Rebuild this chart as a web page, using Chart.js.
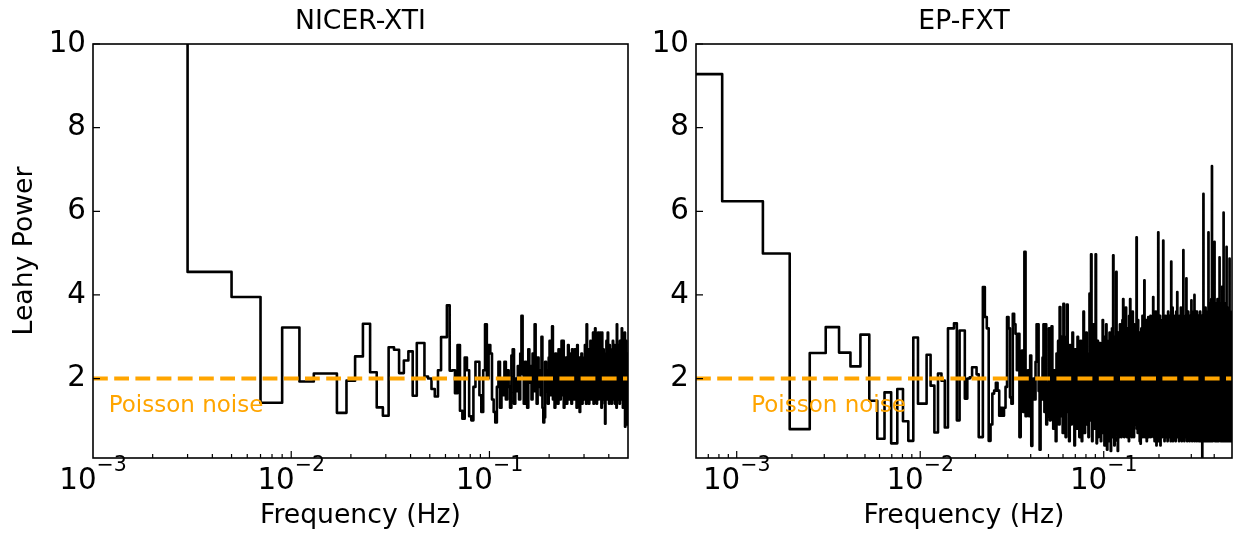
<!DOCTYPE html>
<html>
<head>
<meta charset="utf-8">
<script src="https://cdn.jsdelivr.net/npm/chart.js@4.4.1/dist/chart.umd.min.js"></script>
<style>
html,body{margin:0;padding:0;background:#fff;overflow:hidden;}
#wrap{position:relative;width:1235px;height:535px;background:#fff;}
canvas{position:absolute;top:0;}
#cNicer{left:0;}
#cEp{left:640px;}
</style>
</head>
<body>
<div id="wrap">
<canvas id="cNicer" width="640" height="535"></canvas>
<canvas id="cEp" width="595" height="535"></canvas>
</div>
<script>
const FONT = "'DejaVu Sans', sans-serif";
const NOISE_COLOR = '#FFA500';

const nicerTitle = 'NICER-XTI';
const epTitle = 'EP-FXT';
const xAxisTitle = 'Frequency (Hz)';
const yAxisTitle = 'Leahy Power';
const noiseLabel = 'Poisson noise';

const nicerDf = 0.002;      // Hz, frequency resolution (NICER-XTI)
const epDf = 1 / 1800;      // Hz, frequency resolution (EP-FXT)

const nicerXRange = [1e-3, 0.5];
const epXRange = [6e-4, 0.5];
const yRange = [0.1, 10];
const yTickValues = [2, 4, 6, 8, 10];
const xMajorTickValues = [1e-3, 1e-2, 1e-1];
const xMajorTickBase = '10';
const xMajorTickExponents = ['\u22123', '\u22122', '\u22121'];
const noiseLevel = 2;
const noiseLabelPos = [1.2e-3, 1.2];

const nicerPower = [
12,4.55,3.95,1.42,3.22,1.93,2.12,2.12,1.18,1.95,
2.53,3.31,2.15,1.31,1.11,2.75,2.69,2.13,2.43,2.65,
1.59,2.85,2.85,2.05,2.0,1.75,1.57,2.2,2.99,2.99,
3.75,2.19,2.2,1.65,2.8,1.23,1.04,2.5,2.2,1.1,
1.0,1.8,2.4,2.4,1.6,1.2,2.2,3.3,2.0,2.8,
2.6,1.5,1.2,0.95,1.8,2.4,1.3,2.0,1.6,2.4,
1.5,2.2,1.8,1.3,2.55,2.7,1.4,2.0,1.7,2.3,
1.5,2.6,3.5,2.1,1.4,2.4,1.8,1.3,2.7,1.9,
2.3,1.5,2.6,1.7,3.3,2.0,1.4,2.5,1.8,2.2,
1.6,3.0,1.3,0.95,1.07,2.4,1.7,2.2,1.4,2.5,
2.9,1.6,2.3,3.25,1.5,2.0,1.3,2.6,1.8,2.2,
1.4,2.7,1.9,1.5,2.4,2.9,1.6,2.9,1.3,2.2,
1.8,2.5,1.4,2.1,2.8,1.5,2.3,1.7,2.6,1.4,
2.7,1.9,2.2,1.5,2.7,1.6,2.4,1.3,2.8,2.0,
1.5,2.5,1.2,2.2,1.7,2.6,1.4,2.3,1.8,2.5,
1.5,2.8,1.9,1.4,3.3,2.1,1.6,2.7,1.4,2.2,
1.7,2.9,1.5,2.4,1.9,2.6,3.1,1.4,2.5,1.8,
3.2,1.6,2.3,1.4,2.8,2.0,3.1,1.5,2.4,1.7,
3.1,1.6,2.5,1.3,3.1,2.0,1.5,2.7,1.8,2.3,
1.4,0.92,2.6,1.7,2.9,1.5,2.2,3.1,1.6,2.5,
1.4,2.8,1.9,1.5,2.7,2.1,1.4,2.6,1.7,2.9,
1.5,2.4,1.8,2.8,1.4,2.3,1.6,2.7,1.3,3.3,
1.9,2.4,1.5,2.8,1.7,2.2,1.4,2.9,1.6,2.5,
1.5,2.7,3.2,1.6,2.4,1.3,2.8,1.9,2.5,1.5,
3.1,0.85,2.6,1.7,2.9,1.4,2.5,0.9,2.6,1.8
];

const epPower = [
9.28,6.24,4.99,0.79,2.61,3.23,2.62,2.29,3.05,1.47,
0.56,1.67,0.45,1.75,0.98,0.51,2.98,1.4,1.4,2.57,
1.83,0.71,2.12,1.95,0.83,3.2,3.2,3.32,1.0,3.15,
3.15,1.52,2.0,2.03,2.27,2.27,2.1,0.6,0.6,4.19,
3.47,3.2,0.51,0.9,1.64,1.71,1.9,1.71,1.11,1.3,
1.11,1.3,1.8,3.47,3.2,1.55,1.4,3.55,3.3,3.07,
2.2,3.07,0.6,1.6,2.67,1.2,5.03,1.1,1.4,2.2,
1.1,2.55,0.39,1.8,2.0,1.5,2.4,3.3,3.3,1.7,
0.3,2.0,1.5,2.5,3.3,1.2,3.3,0.9,1.9,1.1,
3.2,1.0,2.4,3.25,1.5,0.8,2.2,1.7,0.5,2.6,
1.3,2.9,0.9,3.71,2.4,1.1,3.0,0.7,3.79,1.8,
2.5,0.6,3.0,3.77,1.2,2.1,0.5,2.8,1.6,0.9,
2.3,3.1,1.0,1.9,0.4,2.7,1.4,2.2,0.8,3.0,
1.2,2.5,0.6,1.8,2.9,1.1,0.5,2.4,1.6,3.6,
2.0,0.7,2.8,1.3,3.1,0.9,2.2,1.5,0.6,2.6,
4.03,1.0,2.3,4.97,1.8,0.5,2.7,1.2,3.3,0.8,
2.0,1.4,4.97,2.2,0.45,1.7,2.9,0.6,1.5,2.4,
0.9,2.85,1.3,0.5,2.1,1.8,0.7,3.4,1.1,2.6,
1.9,0.4,3.0,2.2,0.9,3.3,1.5,0.3,2.4,1.2,
2.9,0.5,1.7,3.1,0.8,2.0,0.27,2.7,1.4,3.2,
0.6,2.3,4.95,1.0,2.6,0.4,3.0,1.6,0.7,2.8,
4.55,1.2,2.1,0.5,0.27,3.1,1.4,2.5,0.6,1.9,
3.3,0.8,2.2,1.5,0.6,2.8,1.1,3.4,0.7,3.9,
1.3,2.4,0.6,3.0,1.8,0.9,2.6,3.7,1.0,2.1,
0.6,3.2,1.6,0.8,2.9,1.3,0.5,3.5,2.0,1.0,
3.9,0.7,2.4,1.4,3.2,0.6,2.0,1.1,3.6,0.9,
2.7,1.5,0.6,3.3,1.8,1.07,2.9,0.9,3.1,1.3,
2.2,5.38,0.8,2.6,1.6,0.7,3.4,1.2,2.4,0.9,
3.0,1.5,0.5,3.1,2.0,0.44,2.7,1.3,3.2,0.7,
2.3,1.0,3.5,0.6,2.1,1.7,3.0,0.7,2.5,4.35,
1.2,0.6,3.3,1.9,0.8,2.8,1.4,3.4,0.5,2.2,
1.6,3.0,0.7,2.5,3.47,1.1,0.6,2.9,1.8,3.2,
0.9,2.4,1.3,3.5,0.6,2.1,1.5,3.1,0.7,2.6,
1.2,3.4,0.8,2.0,3.95,0.6,1.7,3.0,1.1,2.5,
0.5,3.3,1.4,2.2,0.7,3.6,1.0,2.7,0.4,3.1,
1.6,2.4,0.6,3.3,1.2,0.9,5.5,1.5,2.8,0.5,
3.0,1.3,2.1,0.7,3.5,1.8,0.4,2.6,1.1,3.2,
0.8,2.3,1.5,3.4,0.6,2.0,1.2,3.1,0.9,5.3,
1.4,0.6,2.7,1.9,3.3,0.5,2.2,1.6,0.8,2.6,
3.5,1.0,0.6,2.7,1.3,3.0,0.7,2.4,1.7,3.4,
0.5,2.1,1.4,3.6,0.8,2.5,1.1,3.2,0.6,2.0,
3.5,1.3,0.7,2.8,1.6,3.1,0.5,2.3,1.0,4.8,
1.2,3.3,0.6,2.6,1.5,0.9,3.7,1.8,0.5,2.4,
3.0,1.1,0.7,3.4,2.0,0.6,2.7,1.3,3.5,0.8,
2.2,1.6,3.1,0.5,2.5,1.2,3.6,0.9,2.0,1.4,
3.3,0.7,4.07,1.5,0.6,2.8,1.1,3.4,0.8,2.3,
1.7,3.2,0.5,2.6,1.3,3.5,0.7,2.1,1.0,3.0,
0.6,2.4,1.6,3.7,0.8,2.0,1.2,3.3,0.5,2.7,
1.4,3.1,0.7,2.2,1.0,3.6,0.6,2.5,5.07,1.3,
0.8,3.0,1.7,2.3,0.5,3.4,1.1,2.6,0.9,3.2,
1.5,0.6,2.8,1.2,3.5,0.7,2.1,4.4,0.9,2.4,
1.6,3.3,0.5,2.7,1.1,3.1,0.8,2.0,1.4,3.6,
0.6,2.5,1.2,3.4,0.7,2.2,1.6,3.0,0.5,2.8,
1.0,3.5,0.8,2.3,1.3,3.2,0.6,2.6,1.7,3.0,
3.87,0.7,2.1,1.2,3.4,0.5,2.5,1.5,3.3,0.9,
2.2,1.1,3.6,0.6,2.7,1.4,3.1,0.8,2.0,1.6,
3.5,4.0,0.5,2.4,1.2,3.2,0.7,2.8,1.0,3.4,
0.6,2.3,1.5,3.6,0.8,2.1,1.3,3.0,0.5,2.6,
3.6,1.1,0.7,3.3,1.8,2.4,0.6,3.1,1.2,2.7,
0.9,3.5,1.5,2.0,0.5,3.2,1.0,2.6,0.7,3.4,
1.4,2.2,0.6,3.6,1.1,2.8,0.8,3.0,1.6,0.5,
2.5,3.3,0.7,2.1,1.3,3.5,0.9,2.4,0.6,0.11,
3.1,1.2,2.7,0.8,3.4,1.5,0.5,2.3,6.42,1.0,
2.6,0.7,3.2,1.4,2.0,0.6,3.6,1.1,2.8,0.9,
3.3,1.6,0.5,2.5,1.2,3.7,0.8,2.2,1.4,3.0,
0.6,2.7,1.1,3.4,0.7,2.4,1.5,3.2,0.5,2.9,
1.3,3.6,0.8,2.1,1.0,3.5,0.6,2.6,1.7,5.5,
0.7,3.0,1.2,2.4,0.5,3.8,1.4,2.2,0.9,3.3,
1.1,0.6,3.6,2.0,1.5,3.1,0.7,2.7,1.2,3.4,
0.5,2.5,1.6,3.9,0.8,2.3,1.0,3.2,0.6,7.08,
1.3,3.5,0.7,2.6,1.1,3.0,0.5,2.2,1.5,3.7,
0.8,2.8,1.2,3.3,0.6,2.4,1.7,3.6,0.9,2.1,
1.4,3.1,5.27,0.7,2.5,1.0,3.4,0.5,2.9,1.3,
3.8,0.8,2.2,1.6,3.2,0.6,2.7,1.1,3.5,0.9,
2.3,1.4,3.7,0.5,2.6,1.2,3.0,0.7,2.0,3.9,
1.0,0.6,3.3,2.4,1.5,3.6,0.8,2.1,1.1,3.4,
0.5,2.8,1.3,3.1,0.7,2.5,1.6,3.7,0.9,4.9,
1.2,2.2,0.6,3.5,1.4,2.7,0.8,3.2,1.0,2.4,
3.8,0.5,2.6,1.5,3.3,0.7,2.0,1.2,3.6,0.6,
2.9,1.1,3.4,0.8,2.3,1.6,4.2,0.5,2.5,1.3,
3.1,0.7,2.7,1.0,3.6,0.6,2.2,1.4,3.3,5.97,
0.9,2.5,1.2,3.7,0.5,2.8,1.5,3.0,0.7,2.1,
3.5,1.1,0.6,3.2,2.4,1.3,3.8,0.8,2.6,1.0,
3.4,0.5,2.3,1.6,3.6,0.7,2.0,1.2,3.1,0.9,
5.15,1.4,2.7,0.6,3.3,1.1,2.5,0.5,3.7,1.5,
2.2,0.8,3.5,1.0,2.8,0.6,3.2,1.3,2.4,0.7,
3.6,1.6,2.1,0.5,3.4,1.2,2.6,0.9,3.0,1.4,
0.6,3.7,4.87,1.1,2.3,0.7,3.3,1.5,2.7,0.5,
3.1,1.0,2.5,0.8,3.6,1.3,2.0,0.6,3.4,1.7,
2.8,0.9,3.2,0.5,2.4,1.2,3.5,0.7,2.2,1.0
];

// matplotlib-style "steps-mid": horizontal runs change value half-way (in frequency) between bins
function stepPoints(df, power) {
  const f = power.map((_, i) => (i + 1) * df);
  const pts = [{ x: f[0], y: power[0] }];
  for (let i = 1; i < f.length; i++) pts.push({ x: (f[i - 1] + f[i]) / 2, y: power[i] });
  pts.push({ x: f[f.length - 1], y: power[power.length - 1] });
  return pts;
}

const TICK_FONT = 29.33;
const SUP_FONT = 20.5;
const LABEL_FONT = 26.67;
const NOISE_FONT = 23;

function makeDecor(name) {
  return {
    id: 'decor_' + name,
    afterDatasetsDraw(chart) {
      const { ctx, chartArea: a, scales: { x, y } } = chart;
      ctx.save();
      // Poisson noise annotation
      ctx.fillStyle = NOISE_COLOR;
      ctx.font = NOISE_FONT + 'px ' + FONT;
      ctx.textAlign = 'left';
      ctx.textBaseline = 'alphabetic';
      ctx.fillText(noiseLabel, x.getPixelForValue(noiseLabelPos[0]), y.getPixelForValue(noiseLabelPos[1]));
      // frame
      ctx.strokeStyle = '#000';
      ctx.lineWidth = 1.6;
      ctx.strokeRect(a.left, a.top, a.right - a.left, a.bottom - a.top);
      // inward ticks
      ctx.lineWidth = 1.2;
      ctx.beginPath();
      yTickValues.forEach(v => {
        const py = y.getPixelForValue(v);
        ctx.moveTo(a.left, py); ctx.lineTo(a.left + 7, py);
      });
      const lo = Math.floor(Math.log10(x.min)), hi = Math.ceil(Math.log10(x.max));
      for (let e = lo; e <= hi; e++) {
        for (let m = 1; m <= 9; m++) {
          const v = m * Math.pow(10, e);
          if (v < x.min * 1.0001 || v > x.max * 0.9999) continue;
          const px = x.getPixelForValue(v);
          const len = (m === 1) ? 7 : 4;
          ctx.moveTo(px, a.bottom); ctx.lineTo(px, a.bottom - len);
        }
      }
      ctx.stroke();
      // x tick labels 10^n
      ctx.fillStyle = '#000';
      ctx.textAlign = 'left';
      xMajorTickValues.forEach((v, i) => {
        if (v < x.min || v > x.max) return;
        const px = x.getPixelForValue(v);
        ctx.font = TICK_FONT + 'px ' + FONT;
        const wBase = ctx.measureText(xMajorTickBase).width;
        ctx.font = SUP_FONT + 'px ' + FONT;
        const wSup = ctx.measureText(xMajorTickExponents[i]).width;
        const x0 = px - (wBase + wSup) / 2;
        ctx.font = TICK_FONT + 'px ' + FONT;
        ctx.fillText(xMajorTickBase, x0, a.bottom + 31);
        ctx.font = SUP_FONT + 'px ' + FONT;
        ctx.fillText(xMajorTickExponents[i], x0 + wBase, a.bottom + 13);
      });
      ctx.restore();
    }
  };
}

function makeChart(canvasId, cfg) {
  return new Chart(document.getElementById(canvasId), {
    type: 'line',
    data: {
      datasets: [
        {
          label: noiseLabel,
          data: [{ x: cfg.xRange[0], y: noiseLevel }, { x: cfg.xRange[1], y: noiseLevel }],
          borderColor: NOISE_COLOR, borderWidth: 4, borderDash: [14.8, 6.4],
          pointRadius: 0, order: 0, clip: 0, borderCapStyle: 'butt'
        },
        {
          label: cfg.title,
          data: stepPoints(cfg.df, cfg.power),
          borderColor: '#000', borderWidth: 2.6, pointRadius: 0,
          stepped: 'before', order: 1, clip: 0,
          borderJoinStyle: 'round', borderCapStyle: 'butt'
        }
      ]
    },
    options: {
      responsive: false, animation: false, devicePixelRatio: 1,
      layout: { padding: { left: 0, right: cfg.padRight, top: 0, bottom: 0 } },
      plugins: {
        legend: { display: false },
        tooltip: { enabled: false },
        title: {
          display: true, text: cfg.title, fullSize: false, color: '#000',
          font: { family: FONT, size: LABEL_FONT, weight: 'normal' },
          padding: { top: 6, bottom: 6 }
        }
      },
      scales: {
        x: {
          type: 'logarithmic', min: cfg.xRange[0], max: cfg.xRange[1],
          ticks: { display: false },
          grid: { display: false, drawTicks: false },
          border: { display: false },
          title: {
            display: true, text: xAxisTitle, color: '#000',
            font: { family: FONT, size: LABEL_FONT }, padding: { top: 0, bottom: 3 }
          },
          afterFit(s) { s.height = 77; }
        },
        y: {
          type: 'linear', min: yRange[0], max: yRange[1],
          afterBuildTicks(s) { s.ticks = yTickValues.map(v => ({ value: v })); },
          ticks: { color: '#000', font: { family: FONT, size: TICK_FONT }, padding: 7 },
          grid: { display: false, drawTicks: false },
          border: { display: false },
          title: {
            display: cfg.showYTitle, text: yAxisTitle, color: '#000',
            font: { family: FONT, size: LABEL_FONT }, padding: { top: 9, bottom: 0 }
          },
          afterFit(s) { s.width = cfg.yWidth; }
        }
      }
    },
    plugins: [makeDecor(canvasId)]
  });
}

makeChart('cNicer', { title: nicerTitle, df: nicerDf, power: nicerPower, xRange: nicerXRange, padRight: 12, yWidth: 93, showYTitle: true });
makeChart('cEp', { title: epTitle, df: epDf, power: epPower, xRange: epXRange, padRight: 3, yWidth: 56, showYTitle: false });
</script>
</body>
</html>
